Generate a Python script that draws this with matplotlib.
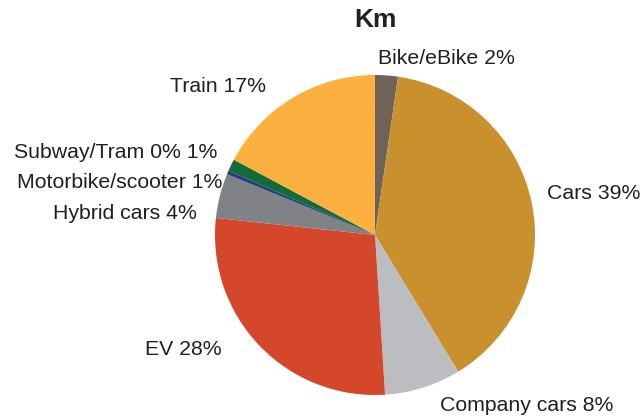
import matplotlib
matplotlib.use("Agg")
import matplotlib.pyplot as plt

plt.rcParams['font.family'] = ['Liberation Sans', 'DejaVu Sans']

# slice shares (%) clockwise from 12 o'clock
categories = ['Bike/eBike', 'Cars', 'Company cars', 'EV', 'Hybrid cars',
              'Motorbike/scooter', 'Subway/Tram', 'Train']
shares = [2.3, 39.0, 7.7, 27.7, 4.5, 0.4, 1.2, 17.2]
colors = ['#6f6357', '#c8912e', '#bcbdc0', '#d4472a', '#808285',
          '#25407f', '#136b38', '#fbb040']
labels = ['Bike/eBike 2%', 'Cars 39%', 'Company cars 8%', 'EV 28%',
          'Hybrid cars 4%', 'Motorbike/scooter 1%', 'Subway/Tram 0% 1%', 'Train 17%']

W, H = 644, 419
fig = plt.figure(figsize=(W / 100, H / 100), dpi=100)

cx, cy, r = 375, 235, 160
ax = fig.add_axes([(cx - r) / W, (H - cy - r) / H, 2 * r / W, 2 * r / H])
ax.pie(shares, colors=colors, startangle=90, counterclock=False,
       wedgeprops=dict(linewidth=0))
ax.set_xlim(-1, 1)
ax.set_ylim(-1, 1)
ax.axis('off')

# label positions in pixels (x, y centre, alignment)
label_pos = [(378, 58, 'left'), (547, 193, 'left'), (440, 405, 'left'),
             (222, 349, 'right'), (197, 213, 'right'), (222, 182, 'right'),
             (217, 153, 'right'), (266, 86, 'right')]
for lab, (x, y, ha) in zip(labels, label_pos):
    fig.text(x / W, 1 - y / H, lab, ha=ha, va='center', fontsize=15.3, color='#231f20')

fig.text(375 / W, 1 - 20 / H, 'Km', ha='center', va='center', fontsize=19,
         fontweight='bold', color='#231f20')

fig.savefig('out.png', dpi=100)
